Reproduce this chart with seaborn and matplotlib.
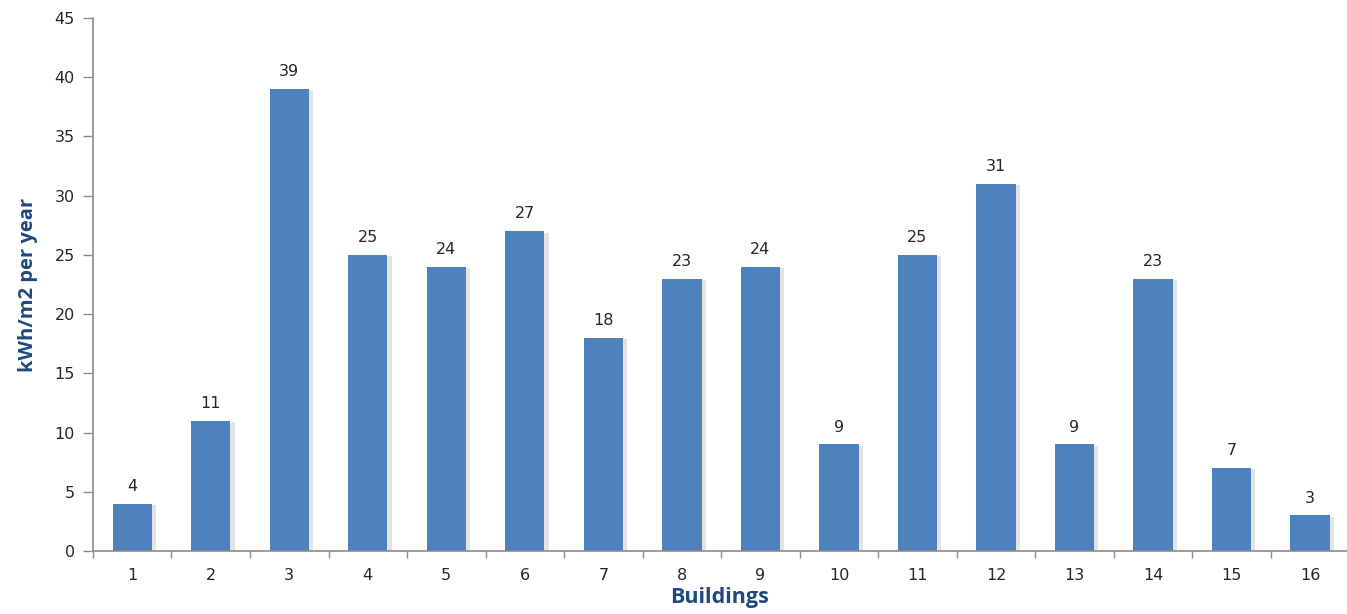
import matplotlib
matplotlib.use("Agg")
import matplotlib.pyplot as plt
import matplotlib.patheffects as pe
from matplotlib.ticker import FixedLocator
import numpy as np
import pandas as pd
import seaborn as sns

buildings = [str(i) for i in range(1, 17)]
energy = [4, 11, 39, 25, 24, 27, 18, 23, 24, 9, 25, 31, 9, 23, 7, 3]
y_ticks = [0, 5, 10, 15, 20, 25, 30, 35, 40, 45]

bar_color = "#4F81BD"
label_color = "#1F497D"
axis_gray = "#8C8C8C"
text_color = "#262626"

sns.set_theme(style="white")
plt.rcParams["font.family"] = ["DejaVu Sans"]

df = pd.DataFrame({"Building": buildings, "Energy": energy})

fig = plt.figure(figsize=(13.47, 6.14), dpi=100)
ax = fig.add_axes([0.069, 0.1026, 0.931, 0.8681])

sns.barplot(data=df, x="Building", y="Energy", color=bar_color, width=0.5,
            saturation=1, ax=ax)

for patch in ax.patches:
    patch.set_edgecolor("none")
    patch.set_path_effects([
        pe.SimplePatchShadow(offset=(3, -1), shadow_rgbFace="#b0b0b0", alpha=0.35),
        pe.Normal(),
    ])

for patch, val in zip(ax.patches, energy):
    ax.annotate(f"{val}", (patch.get_x() + patch.get_width() / 2, val),
                xytext=(0, 7), textcoords="offset points",
                ha="center", va="bottom", fontsize=11.5, color=text_color)

ax.set_xlim(-0.5, 15.47)
ax.set_ylim(0, 45)
ax.set_yticks(y_ticks)
ax.set_yticklabels([str(t) for t in y_ticks], fontsize=11.5, color=text_color)
ax.tick_params(axis="y", direction="out", length=7, width=1, color=axis_gray, pad=6, left=True)
ax.tick_params(axis="x", which="major", length=0, pad=12, labelsize=11.5, labelcolor=text_color)
ax.xaxis.set_minor_locator(FixedLocator(np.arange(-0.5, 16, 1.0)))
ax.tick_params(axis="x", which="minor", direction="out", length=5, width=1,
               color=axis_gray, bottom=True)

for side in ["top", "right"]:
    ax.spines[side].set_visible(False)
for side in ["left", "bottom"]:
    ax.spines[side].set_color(axis_gray)
    ax.spines[side].set_linewidth(1.2)

ax.set_xlabel("Buildings", fontsize=15.5, fontweight="bold", color=label_color,
              family=["Open Sans", "DejaVu Sans"], labelpad=3)
ax.set_ylabel("kWh/m2 per year", fontsize=14.5, fontweight="bold", color=label_color,
              family=["Open Sans", "DejaVu Sans"], labelpad=12)
ax.grid(False)

fig.savefig("out.png", dpi=100)
